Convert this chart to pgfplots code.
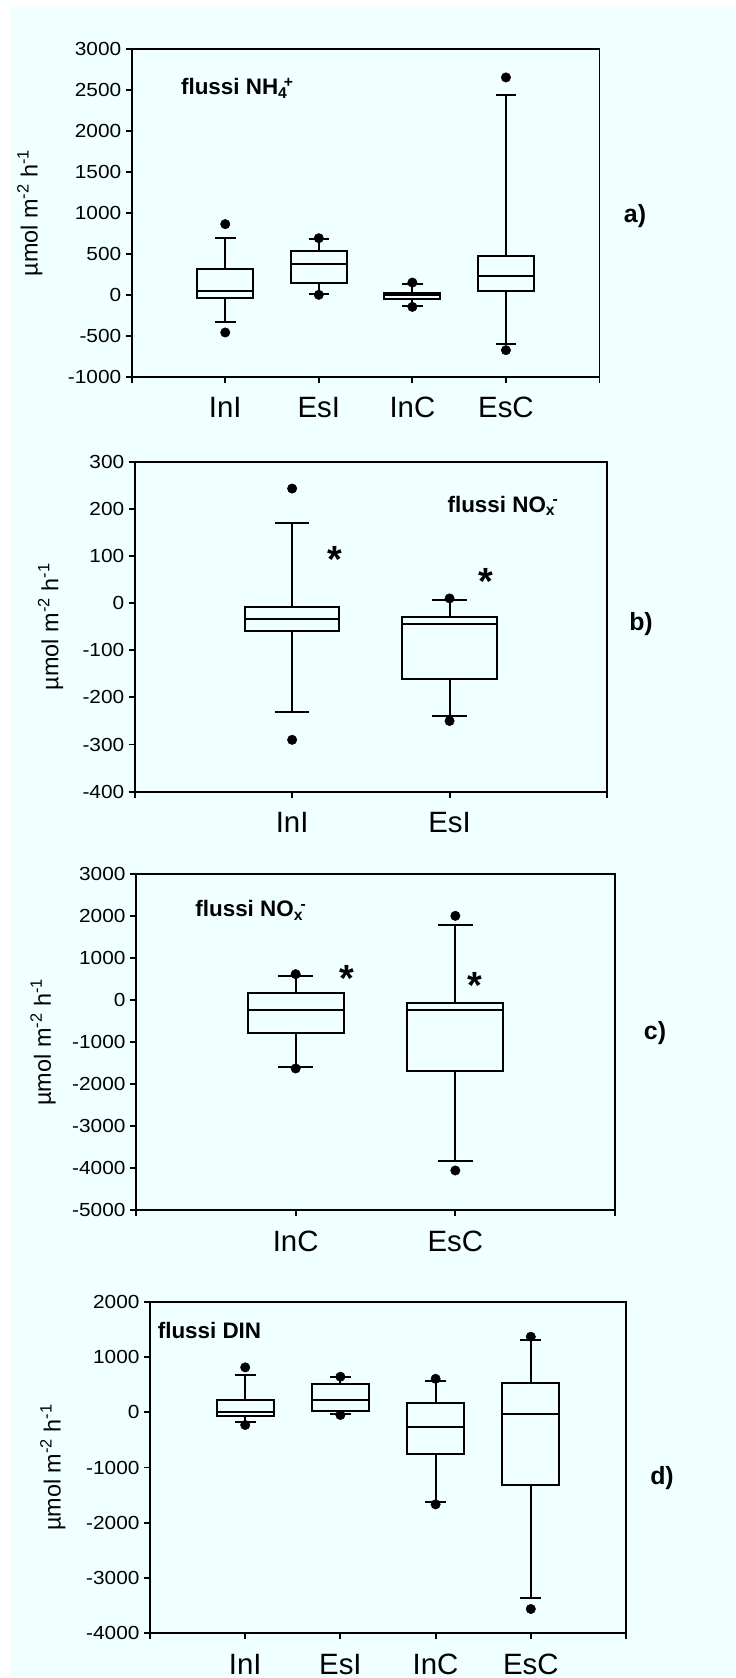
\documentclass[border=0pt]{standalone}
\usepackage{fontspec}
\setmainfont{Liberation Sans}
\newfontfamily\tickfont{Liberation Sans}[FakeStretch=1.1]
\usepackage{pgfplots}
\usepgfplotslibrary{statistics}
\pgfplotsset{compat=1.18}
\definecolor{bg}{RGB}{240,255,255}

\pgfplotsset{
  myax/.style={
    scale only axis,
    axis line style={line width=1.9bp},
    every tick/.style={line width=1.9bp, black},
    major tick length=6bp,
    tick align=outside,
    xtick pos=bottom, ytick pos=left,
    yticklabel style={font=\tickfont\fontsize{19}{19}\selectfont, xshift=-1bp},
    xticklabel style={font=\fontsize{29.5}{29.5}\selectfont, yshift=-11bp},
    /pgf/number format/assume math mode=true,
    /pgf/number format/1000 sep={},
    ylabel={µmol m\textsuperscript{-2} h\textsuperscript{-1}},
    ylabel style={font=\fontsize{23.5}{23.5}\selectfont, anchor=center},
    boxplot/draw direction=y,
    boxplot/box extend=0.6,
    boxplot/whisker extend=0.22,
    clip=false,
  },
  bp/.style={black, line width=2bp, mark=*, mark size=4.7bp, mark options={solid, fill=black, line width=0.5bp}},
}
\tikzset{
  ttl/.style={anchor=base west, font=\bfseries\fontsize{22.5}{22.5}\selectfont},
  ast/.style={font=\bfseries\fontsize{38}{38}\selectfont},
}

\begin{document}
\begin{tikzpicture}
\useasboundingbox (0,0) rectangle (736bp,1678bp);
\fill[bg] (11bp,0) rectangle (736bp,1671bp);

% ---------------- a) ----------------
\begin{axis}[myax, at={(131.7bp,1301.3bp)}, anchor=south west,
  width=467.8bp, height=327.4bp,
  xmin=0, xmax=5, ymin=-1000, ymax=3000,
  ytick={-1000,-500,...,3000},
  xtick={0,1,2,3,4,5}, xticklabels={,InI,EsI,InC,EsC,},
  ylabel style={at={(axis description cs:-0.218,0.5)}}]
\addplot[bp, boxplot prepared={lower whisker=-338, lower quartile=-33, median=49, upper quartile=310, upper whisker=700, draw position=1}]
  table[row sep=\\, y index=0] {v\\ 864\\ -460\\};
\addplot[bp, boxplot prepared={lower whisker=8, lower quartile=143, median=371, upper quartile=530, upper whisker=684, draw position=2}]
  table[row sep=\\, y index=0] {v\\ 692\\ 0\\};
\addplot[bp, boxplot prepared={lower whisker=-134, lower quartile=-53, median=-8, upper quartile=24, upper whisker=138, draw position=3}]
  table[row sep=\\, y index=0] {v\\ 150\\ -147\\};
\addplot[bp, boxplot prepared={lower whisker=-595, lower quartile=49, median=224, upper quartile=477, upper whisker=2436, draw position=4}]
  table[row sep=\\, y index=0] {v\\ 2656\\ -676\\};
\node[ttl] at (axis cs:0.49,2442)
  {flussi NH\rlap{\textsubscript{4}}\kern0.25em\textsuperscript{+}};
\end{axis}

% ---------------- b) ----------------
\begin{axis}[myax, at={(134.7bp,886.3bp)}, anchor=south west,
  width=472.3bp, height=330bp,
  xmin=0, xmax=3, ymin=-400, ymax=300,
  ytick={-400,-300,...,300},
  xtick={0,1,2,3}, xticklabels={,InI,EsI,},
  ylabel style={at={(axis description cs:-0.178,0.5)}}]
\addplot[bp, boxplot prepared={lower whisker=-230, lower quartile=-60, median=-34, upper quartile=-8.5, upper whisker=170, draw position=1}]
  table[row sep=\\, y index=0] {v\\ 243\\ -290\\};
\addplot[bp, boxplot prepared={lower whisker=-240, lower quartile=-160, median=-44, upper quartile=-30, upper whisker=7, draw position=2}]
  table[row sep=\\, y index=0] {v\\ 10\\ -250\\};
\node[ast] at (axis cs:1.27,92) {*};
\node[ast] at (axis cs:2.23,46) {*};
\node[ttl] at (axis cs:1.965,193)
  {flussi NO\rlap{\textsubscript{x}}\kern0.3em\textsuperscript{-}};
\end{axis}

% ---------------- c) ----------------
\begin{axis}[myax, at={(136bp,468bp)}, anchor=south west,
  width=479bp, height=335.7bp,
  xmin=0, xmax=3, ymin=-5000, ymax=3000,
  ytick={-5000,-4000,...,3000},
  xtick={0,1,2,3}, xticklabels={,InC,EsC,},
  ylabel style={at={(axis description cs:-0.194,0.5)}}]
\addplot[bp, boxplot prepared={lower whisker=-1581, lower quartile=-778, median=-238, upper quartile=183, upper whisker=580, draw position=1}]
  table[row sep=\\, y index=0] {v\\ 620\\ -1628\\};
\addplot[bp, boxplot prepared={lower whisker=-3829, lower quartile=-1684, median=-238, upper quartile=-64, upper whisker=1795, draw position=2}]
  table[row sep=\\, y index=0] {v\\ 2010\\ -4059\\};
\node[ast] at (axis cs:1.32,520) {*};
\node[ast] at (axis cs:2.12,340) {*};
\node[ttl] at (axis cs:0.35,1983)
  {flussi NO\rlap{\textsubscript{x}}\kern0.3em\textsuperscript{-}};
\end{axis}

% ---------------- d) ----------------
\begin{axis}[myax, at={(150bp,44.7bp)}, anchor=south west,
  width=476bp, height=331.6bp,
  xmin=0, xmax=5, ymin=-4000, ymax=2000,
  ytick={-4000,-3000,...,2000},
  xtick={0,1,2,3,4,5}, xticklabels={,InI,EsI,InC,EsC,},
  ylabel style={at={(axis description cs:-0.204,0.5)}}]
\addplot[bp, boxplot prepared={lower whisker=-171, lower quartile=-62, median=10, upper quartile=228, upper whisker=667, draw position=1}]
  table[row sep=\\, y index=0] {v\\ 812\\ -231\\};
\addplot[bp, boxplot prepared={lower whisker=-32, lower quartile=29, median=227, upper quartile=510, upper whisker=631, draw position=2}]
  table[row sep=\\, y index=0] {v\\ 643\\ -50\\};
\addplot[bp, boxplot prepared={lower whisker=-1624, lower quartile=-750, median=-273, upper quartile=167, upper whisker=563, draw position=3}]
  table[row sep=\\, y index=0] {v\\ 605\\ -1667\\};
\addplot[bp, boxplot prepared={lower whisker=-3355, lower quartile=-1323, median=-32, upper quartile=522, upper whisker=1306, draw position=4}]
  table[row sep=\\, y index=0] {v\\ 1366\\ -3560\\};
\node[ttl] at (axis cs:0.045,1343)
  {flussi DIN};
\end{axis}

% panel letters
\node[font=\bfseries\fontsize{25}{25}\selectfont] at (635bp,1462bp) {a)};
\node[font=\bfseries\fontsize{25}{25}\selectfont] at (641bp,1054bp) {b)};
\node[font=\bfseries\fontsize{25}{25}\selectfont] at (655bp,645bp) {c)};
\node[font=\bfseries\fontsize{25}{25}\selectfont] at (662bp,200bp) {d)};
\end{tikzpicture}
\end{document}
